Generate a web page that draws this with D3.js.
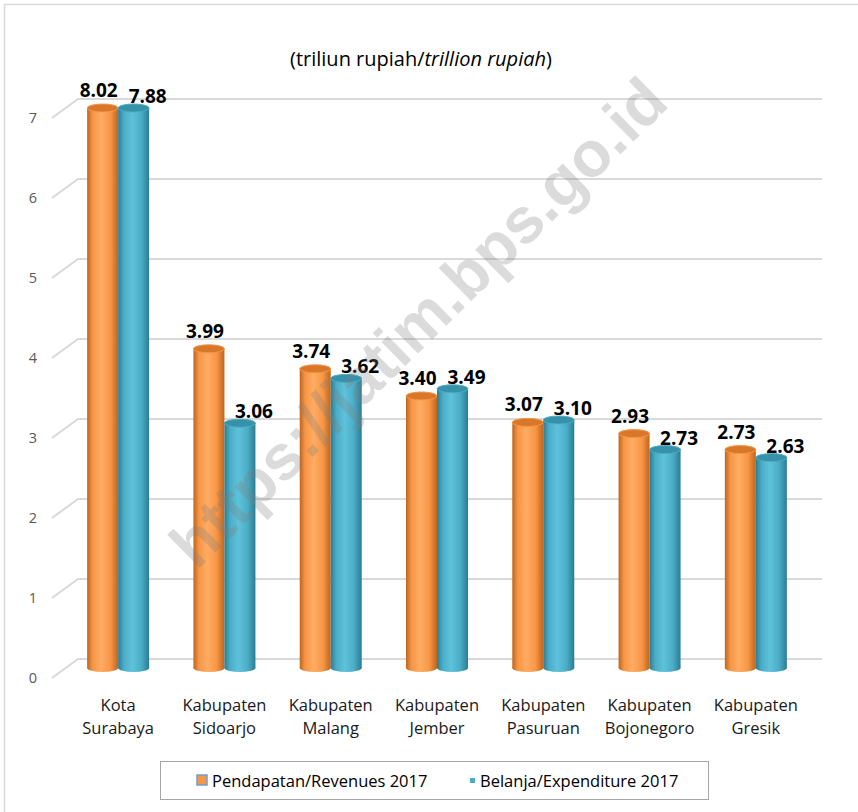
<!DOCTYPE html>
<html>
<head>
<meta charset="utf-8">
<script src="https://cdn.jsdelivr.net/npm/d3@7/dist/d3.min.js"></script>
<style>
  html, body { margin: 0; padding: 0; background: #fff; }
  svg { display: block; }
</style>
</head>
<body>
<script>
// ---- Data ----
const categories = [
  ["Kota", "Surabaya"],
  ["Kabupaten", "Sidoarjo"],
  ["Kabupaten", "Malang"],
  ["Kabupaten", "Jember"],
  ["Kabupaten", "Pasuruan"],
  ["Kabupaten", "Bojonegoro"],
  ["Kabupaten", "Gresik"]
];
const seriesNames = ["Pendapatan/Revenues 2017", "Belanja/Expenditure 2017"];
const revenues = [8.02, 3.99, 3.74, 3.40, 3.07, 2.93, 2.73];
const expenditure = [7.88, 3.06, 3.62, 3.49, 3.10, 2.73, 2.63];
const yTicks = [0, 1, 2, 3, 4, 5, 6, 7];
const titlePlain = "(triliun rupiah/";
const titleItalic = "trillion rupiah";
const titleEnd = ")";
const watermark = "https://jatim.bps.go.id";

const W = 858, H = 812;
const svg = d3.select("body").append("svg").attr("width", W).attr("height", H);
const defs = svg.append("defs");

// colours
const colors = {
  orange: { base: "#f79646", dark: "#c0651c", light: "#ffac63", top: "#d8772a" },
  blue:   { base: "#4bacc6", dark: "#2a7d93", light: "#5fc2db", top: "#3791a9" }
};
const pal = [colors.orange, colors.blue];

pal.forEach((c, i) => {
  const g = defs.append("linearGradient").attr("id", "cyl" + i)
    .attr("x1", "0").attr("x2", "1").attr("y1", "0").attr("y2", "0");
  g.append("stop").attr("offset", "0%").attr("stop-color", c.dark);
  g.append("stop").attr("offset", "18%").attr("stop-color", c.base);
  g.append("stop").attr("offset", "45%").attr("stop-color", c.light);
  g.append("stop").attr("offset", "75%").attr("stop-color", c.base);
  g.append("stop").attr("offset", "100%").attr("stop-color", c.dark);
});

// outer chart border
svg.append("rect").attr("x", 4.5).attr("y", 4.5).attr("width", W + 10).attr("height", H + 10)
  .attr("fill", "none").attr("stroke", "#d9d9d9").attr("stroke-width", 1.5);

// ---- Scales ----
const yGrid = d3.scaleLinear().domain([0, 7]).range([659, 99]);
const depth = 9;  // bars sit in front of the back wall
const yBar = d3.scaleLinear().domain([0, 7]).range([659 + depth, 99 + depth]).clamp(true);
const x = d3.scaleBand().domain(d3.range(categories.length)).range([65, 809]).padding(0);
const barW = 31;
const xs = d3.scaleBand().domain([0, 1]).range([0, barW * 2]);

// ---- Gridlines (3D wall + floor slant) ----
const gridG = svg.append("g");
yTicks.forEach(t => {
  const gy = yGrid(t);
  gridG.append("path")
    .attr("d", `M52,${gy + 19} L78,${gy} L822,${gy}`)
    .attr("fill", "none").attr("stroke", "#d9d9d9").attr("stroke-width", 2);
  gridG.append("text")
    .attr("x", 33).attr("y", gy + 19).attr("dy", "0.35em")
    .attr("text-anchor", "middle")
    .attr("font-family", "Open Sans, sans-serif").attr("font-size", 14.5)
    .attr("fill", "#595959").text(t);
});

// ---- Bars ----
const seriesData = [revenues, expenditure];
const barsG = svg.append("g");
seriesData.forEach((vals, si) => {
  vals.forEach((v, ci) => {
    const x0 = x(ci) + (x.bandwidth() - barW * 2) / 2 + xs(si);
    const cx = x0 + barW / 2;
    const yT = yBar(v), yB = yBar(0);
    const g = barsG.append("g");
    g.append("ellipse").attr("cx", cx).attr("cy", yB).attr("rx", barW / 2).attr("ry", 4)
      .attr("fill", `url(#cyl${si})`);
    g.append("rect").attr("x", x0).attr("y", yT).attr("width", barW).attr("height", yB - yT)
      .attr("fill", `url(#cyl${si})`);
    g.append("ellipse").attr("cx", cx).attr("cy", yT).attr("rx", barW / 2).attr("ry", 4)
      .attr("fill", pal[si].top).attr("stroke", pal[si].base).attr("stroke-width", 1);
  });
});

// ---- Data labels ----
const labelG = svg.append("g");
seriesData.forEach((vals, si) => {
  vals.forEach((v, ci) => {
    const x0 = x(ci) + (x.bandwidth() - barW * 2) / 2 + xs(si);
    const cx = x0 + barW / 2;
    const yT = yBar(v) - 4;
    labelG.append("text")
      .attr("x", si === 0 ? cx - 4 : cx + 14)
      .attr("y", si === 0 ? yT - 7 : yT - 1)
      .attr("text-anchor", "middle")
      .attr("font-family", "Open Sans, sans-serif").attr("font-weight", 700)
      .attr("font-size", 19).attr("fill", "#000")
      .text(v.toFixed(2));
  });
});

// ---- Category labels ----
const catG = svg.append("g");
categories.forEach((lines, ci) => {
  const t = catG.append("text")
    .attr("x", x(ci) + x.bandwidth() / 2).attr("y", 711)
    .attr("text-anchor", "middle")
    .attr("font-family", "Open Sans, sans-serif").attr("font-size", 16.5)
    .attr("fill", "#1a1a1a");
  lines.forEach((ln, li) => {
    t.append("tspan").attr("x", x(ci) + x.bandwidth() / 2).attr("dy", li === 0 ? 0 : 23).text(ln);
  });
});

// ---- Title ----
const title = svg.append("text").attr("x", 421).attr("y", 66).attr("text-anchor", "middle")
  .attr("font-family", "Open Sans, sans-serif").attr("font-size", 20).attr("fill", "#000");
title.append("tspan").text(titlePlain);
title.append("tspan").attr("font-style", "italic").text(titleItalic);
title.append("tspan").text(titleEnd);

// ---- Legend ----
const lg = svg.append("g");
lg.append("rect").attr("x", 160.5).attr("y", 761.5).attr("width", 548).attr("height", 38)
  .attr("fill", "#fff").attr("stroke", "#a6a6a6").attr("stroke-width", 1);
lg.append("rect").attr("x", 197).attr("y", 775).attr("width", 10).attr("height", 10)
  .attr("fill", colors.orange.base).attr("stroke", "#6d9fd6").attr("stroke-width", 1.5);
lg.append("text").attr("x", 212).attr("y", 781).attr("dy", "0.35em")
  .attr("font-family", "Open Sans, sans-serif").attr("font-size", 16.5).attr("fill", "#000")
  .text(seriesNames[0]);
lg.append("rect").attr("x", 470).attr("y", 778).attr("width", 5).attr("height", 5)
  .attr("fill", colors.blue.base);
lg.append("text").attr("x", 480).attr("y", 781).attr("dy", "0.35em")
  .attr("font-family", "Open Sans, sans-serif").attr("font-size", 16.5).attr("fill", "#000")
  .text(seriesNames[1]);

// ---- Watermark ----
svg.append("text")
  .attr("transform", "translate(418,322) rotate(-44.5)")
  .attr("text-anchor", "middle").attr("dy", "0.35em")
  .attr("font-family", "Liberation Sans, Arial, sans-serif").attr("font-weight", 700)
  .attr("font-size", 64).attr("fill", "#7f7f7f").attr("fill-opacity", 0.28)
  .text(watermark);
</script>
</body>
</html>
